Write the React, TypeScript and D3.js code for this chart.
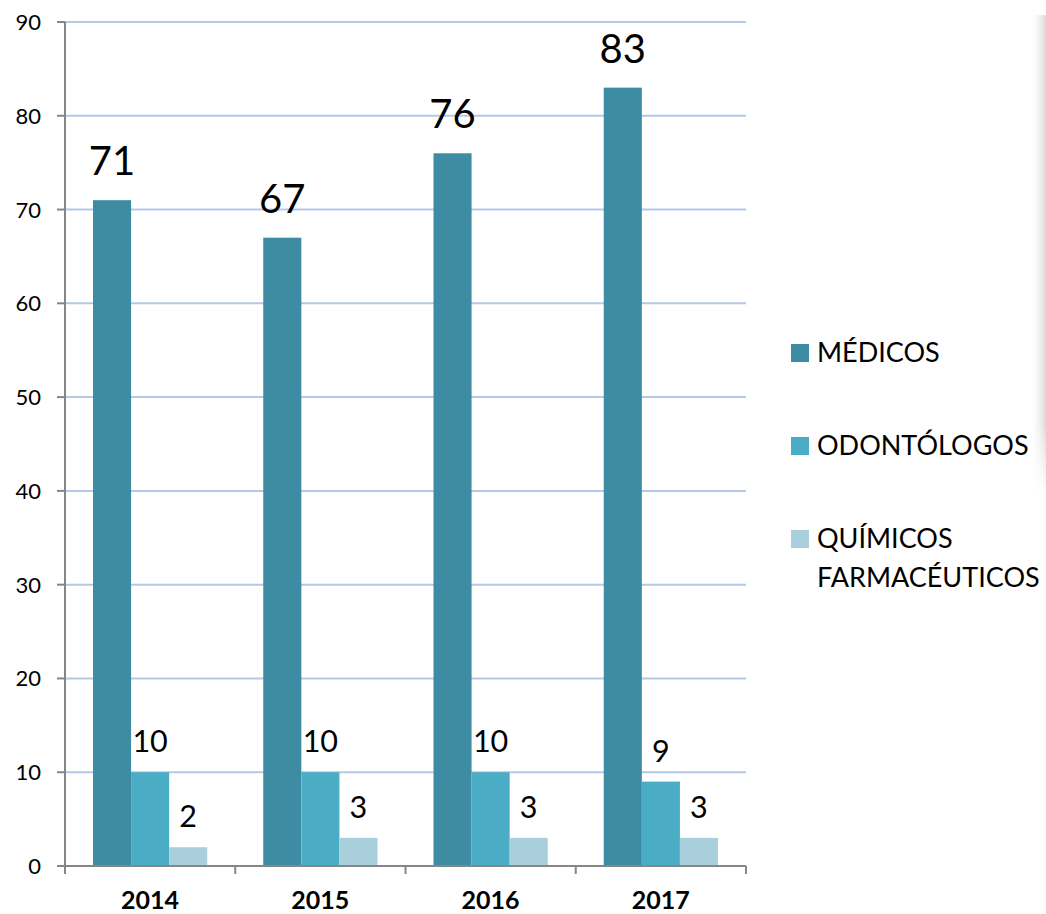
import React from "react";
import * as d3 from "d3";

const years = ["2014", "2015", "2016", "2017"];
const seriesNames = ["MÉDICOS", "ODONTÓLOGOS", "QUÍMICOS FARMACÉUTICOS"];
const medicos = [71, 67, 76, 83];
const odontologos = [10, 10, 10, 9];
const quimicos = [2, 3, 3, 3];
const yTicks = [0, 10, 20, 30, 40, 50, 60, 70, 80, 90];
const colors = ["#3d8ca4", "#4bacc6", "#a9cfdc"];

const W = 1046;
const H = 914;
const FONT = "Lato, 'Open Sans', sans-serif";

export default function App() {
  const x0 = 65, x1 = 746, yTop = 22, yBot = 866;
  const x = d3.scaleBand<string>().domain(years).range([x0, x1]).paddingInner(0).paddingOuter(0);
  const y = d3.scaleLinear().domain([0, 90]).range([yBot, yTop]);
  const inner = d3.scaleBand<number>().domain([0, 1, 2]).range([28, x.bandwidth() - 28]);
  const series = [medicos, odontologos, quimicos];
  const labelSize = [40, 30.5, 30.5];
  const legendY = [344, 437, 530];

  return (
    <svg width={W} height={H} style={{ position: "absolute", left: 0, top: 0, background: "#fff" }}>
      <defs>
        <linearGradient id="shadow" x1="0" x2="1" y1="0" y2="0">
          <stop offset="0" stopColor="#fff" stopOpacity={0} />
          <stop offset="1" stopColor="#d6d6d6" stopOpacity={1} />
        </linearGradient>
        <linearGradient id="fade" x1="0" x2="0" y1="0" y2="1">
          <stop offset="0" stopColor="#fff" stopOpacity={1} />
          <stop offset="0.85" stopColor="#fff" stopOpacity={1} />
          <stop offset="1" stopColor="#fff" stopOpacity={0} />
        </linearGradient>
        <mask id="fadeMask">
          <rect x={1030} y={15} width={16} height={480} fill="url(#fade)" />
        </mask>
      </defs>
      <rect x={1030} y={15} width={16} height={480} fill="url(#shadow)" mask="url(#fadeMask)" />
      {yTicks.filter((t) => t > 0).map((t) => (
        <line key={t} x1={x0} x2={x1} y1={y(t)} y2={y(t)} stroke="#b4c8ea" strokeWidth={2} />
      ))}
      {series.map((vals, si) =>
        vals.map((v, i) => (
          <rect
            key={`${si}-${i}`}
            x={(x(years[i]) as number) + (inner(si) as number)}
            y={y(v)}
            width={inner.bandwidth()}
            height={yBot - y(v)}
            fill={colors[si]}
          />
        ))
      )}
      {series.map((vals, si) =>
        vals.map((v, i) => (
          <text
            key={`l${si}-${i}`}
            x={(x(years[i]) as number) + (inner(si) as number) + inner.bandwidth() / 2}
            y={y(v) - (si === 0 ? 25 : 20)}
            textAnchor="middle"
            fontFamily={FONT}
            fontSize={labelSize[si]}
            fill="#000"
          >
            {v}
          </text>
        ))
      )}
      <line x1={x0} x2={x0} y1={yTop} y2={yBot} stroke="#868686" strokeWidth={2} />
      <line x1={x0} x2={x1} y1={yBot} y2={yBot} stroke="#868686" strokeWidth={2} />
      {yTicks.map((t) => (
        <g key={`t${t}`}>
          <line x1={57} x2={x0} y1={y(t)} y2={y(t)} stroke="#868686" strokeWidth={2} />
          <text x={41} y={y(t) + 8} textAnchor="end" fontFamily={FONT} fontSize={22} fill="#000">
            {t}
          </text>
        </g>
      ))}
      {[...years.map((yr) => x(yr) as number), x1].map((px, i) => (
        <line key={`xt${i}`} x1={px} x2={px} y1={yBot} y2={yBot + 8} stroke="#868686" strokeWidth={2} />
      ))}
      {years.map((yr) => (
        <text
          key={yr}
          x={(x(yr) as number) + x.bandwidth() / 2}
          y={909}
          textAnchor="middle"
          fontFamily={FONT}
          fontWeight="bold"
          fontSize={25}
          fill="#000"
        >
          {yr}
        </text>
      ))}
      {seriesNames.map((name, i) => (
        <g key={name}>
          <rect x={791} y={legendY[i]} width={18} height={18} fill={colors[i]} />
          {i < 2 ? (
            <text x={817} y={legendY[i] + 18} fontFamily={FONT} fontSize={27} fill="#000">
              {name}
            </text>
          ) : (
            <text x={817} y={legendY[i] + 18} fontFamily={FONT} fontSize={27} fill="#000">
              <tspan x={817}>{name.split(" ")[0]}</tspan>
              <tspan x={817} dy={39}>{name.split(" ")[1]}</tspan>
            </text>
          )}
        </g>
      ))}
    </svg>
  );
}
